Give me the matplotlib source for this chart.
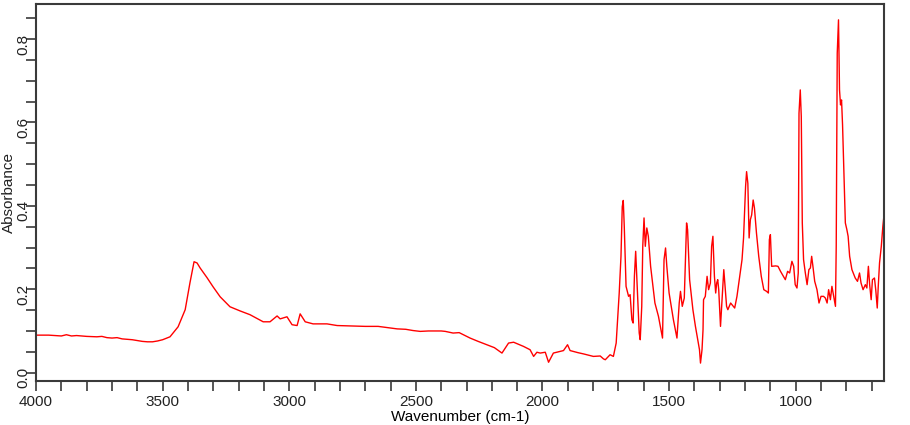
"""
IR spectrum - absorbance vs wavenumber
"""
import matplotlib
matplotlib.use('Agg')
import matplotlib.pyplot as plt
from matplotlib.ticker import MultipleLocator

# valores (cm-1, absorbancia)
wavenumber = [
    4000, 3950, 3900, 3880, 3860, 3840, 3800, 3760, 3740, 3720, 3700, 3680,
    3660, 3640, 3620, 3600, 3580, 3560, 3540, 3520, 3500, 3471, 3439, 3411,
    3392, 3376, 3364, 3352, 3325, 3301, 3273, 3234, 3194, 3155, 3103, 3076,
    3048, 3036, 3009, 2989, 2969, 2957, 2937, 2906, 2851, 2811, 2760, 2700,
    2649, 2600, 2574, 2540, 2511, 2483, 2450, 2400, 2384, 2353, 2329, 2286,
    2254, 2220, 2190, 2160, 2134, 2114, 2075, 2049, 2035, 2022, 2009, 1989,
    1976, 1957, 1917, 1901, 1891, 1860, 1838, 1799, 1772, 1759, 1752, 1733,
    1720, 1709, 1701, 1697, 1690, 1685, 1681, 1677, 1670, 1660, 1654, 1647,
    1642, 1637, 1632, 1625, 1618, 1614, 1608, 1604, 1599, 1594, 1588, 1582,
    1573, 1556, 1542, 1526, 1520, 1514, 1509, 1500, 1483, 1469, 1460, 1455,
    1448, 1440, 1435, 1431, 1427, 1419, 1406, 1396, 1387, 1380, 1376, 1370,
    1366, 1364, 1357, 1350, 1344, 1337, 1332, 1327, 1321, 1316, 1312, 1308,
    1304, 1297, 1291, 1284, 1279, 1273, 1268, 1257, 1241, 1232, 1221, 1212,
    1206, 1202, 1198, 1194, 1189, 1184, 1179, 1174, 1168, 1163, 1155, 1146,
    1136, 1126, 1115, 1108, 1104, 1100, 1095, 1079, 1070, 1060, 1041, 1032,
    1024, 1015, 1008, 1002, 995, 990, 987, 982, 978, 974, 969, 962,
    955, 948, 942, 937, 932, 925, 916, 908, 900, 890, 883, 876,
    870, 863, 857, 850, 843, 840, 836, 831, 827, 823, 819, 815,
    809, 804, 798, 793, 787, 778, 765, 756, 748, 742, 734, 725,
    719, 713, 708, 702, 697, 689, 684, 678, 674, 669, 662, 656, 650,
]
absorbance = [
    0.090, 0.090, 0.088, 0.091, 0.088, 0.089, 0.087, 0.086, 0.087, 0.084, 0.083, 0.084,
    0.081, 0.080, 0.079, 0.077, 0.075, 0.074, 0.074, 0.076, 0.079, 0.086, 0.110, 0.151,
    0.216, 0.266, 0.263, 0.251, 0.228, 0.206, 0.182, 0.158, 0.148, 0.139, 0.122, 0.122,
    0.136, 0.129, 0.134, 0.115, 0.113, 0.141, 0.122, 0.117, 0.117, 0.113, 0.112, 0.111,
    0.111, 0.107, 0.105, 0.104, 0.101, 0.099, 0.100, 0.100, 0.099, 0.095, 0.096, 0.083,
    0.075, 0.067, 0.060, 0.047, 0.071, 0.073, 0.063, 0.055, 0.039, 0.049, 0.047, 0.049,
    0.025, 0.047, 0.053, 0.067, 0.053, 0.048, 0.045, 0.039, 0.040, 0.033, 0.031, 0.043,
    0.039, 0.071, 0.151, 0.191, 0.279, 0.398, 0.413, 0.350, 0.207, 0.183, 0.187, 0.127,
    0.119, 0.231, 0.291, 0.191, 0.095, 0.079, 0.159, 0.303, 0.371, 0.303, 0.347, 0.327,
    0.255, 0.167, 0.135, 0.083, 0.271, 0.299, 0.255, 0.191, 0.127, 0.083, 0.167, 0.195,
    0.159, 0.179, 0.279, 0.359, 0.343, 0.223, 0.151, 0.111, 0.079, 0.055, 0.023, 0.055,
    0.103, 0.175, 0.183, 0.231, 0.199, 0.215, 0.303, 0.327, 0.231, 0.191, 0.215, 0.223,
    0.199, 0.111, 0.175, 0.247, 0.207, 0.159, 0.151, 0.167, 0.155, 0.183, 0.231, 0.271,
    0.323, 0.383, 0.446, 0.482, 0.454, 0.323, 0.367, 0.378, 0.414, 0.395, 0.335, 0.279,
    0.231, 0.199, 0.195, 0.191, 0.319, 0.331, 0.255, 0.256, 0.255, 0.243, 0.223, 0.243,
    0.239, 0.267, 0.255, 0.211, 0.203, 0.239, 0.622, 0.678, 0.614, 0.359, 0.271, 0.239,
    0.211, 0.247, 0.251, 0.279, 0.255, 0.219, 0.199, 0.167, 0.183, 0.183, 0.179, 0.167,
    0.199, 0.175, 0.207, 0.183, 0.159, 0.303, 0.766, 0.846, 0.678, 0.642, 0.654, 0.594,
    0.470, 0.359, 0.343, 0.327, 0.279, 0.247, 0.227, 0.219, 0.239, 0.215, 0.199, 0.211,
    0.203, 0.255, 0.211, 0.175, 0.223, 0.227, 0.199, 0.155, 0.207, 0.263, 0.303, 0.350, 0.386,
]

plt.rcParams['font.family'] = ['Liberation Sans', 'DejaVu Sans']

fig = plt.figure(figsize=(9.1, 4.25), dpi=100)
ax = fig.add_axes([0.0396, 0.1035, 0.9322, 0.8871])

ax.plot(wavenumber, absorbance, color='#ff0000', linewidth=1.0)

ax.set_xlim(4000, 650)
ax.set_ylim(-0.02, 0.884)

ax.xaxis.set_major_locator(MultipleLocator(500))
ax.xaxis.set_minor_locator(MultipleLocator(100))
ax.yaxis.set_major_locator(MultipleLocator(0.2))
ax.yaxis.set_minor_locator(MultipleLocator(0.05))
ax.yaxis.set_major_formatter(lambda v, p: f'{v:.1f}')

edge = '#3a3a3a'
for s in ax.spines.values():
    s.set_color(edge)
    s.set_linewidth(1.5)
ax.tick_params(which='both', length=7, width=1.2, color=edge, direction='out',
               labelsize=11, labelcolor='#222222')
ax.tick_params(axis='x', pad=3)
ax.tick_params(axis='y', labelrotation=90, pad=-3)

ax.set_xlabel('Wavenumber (cm-1)', fontsize=11, labelpad=1)
# rotulo y posicionado a mao, sobrepoe um pouco os numeros como no original
fig.text(9 / 910, 1 - 192.5 / 425, 'Absorbance', rotation=90, fontsize=11,
         ha='center', va='center', color='#222222')

fig.savefig('out.png', dpi=100)
